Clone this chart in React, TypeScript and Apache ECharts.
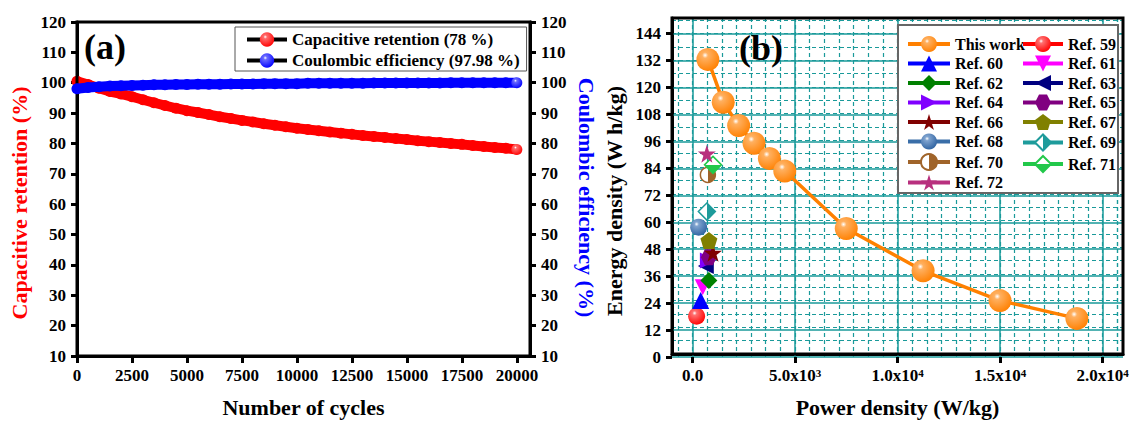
import React, { useEffect, useRef } from "react";
import * as echarts from "echarts";

const FONT = "'Liberation Serif', 'Times New Roman', Times, serif";

// ---------- Panel (a) data ----------
const cycles = [
  0, 500, 1000, 1500, 2000, 2500, 3000, 3500, 4000, 4500, 5000, 5500, 6000, 6500, 7000, 7500, 8000,
  8500, 9000, 9500, 10000, 10500, 11000, 11500, 12000, 12500, 13000, 13500, 14000, 14500, 15000,
  15500, 16000, 16500, 17000, 17500, 18000, 18500, 19000, 19500, 20000,
];
const retention = [
  100.5, 99.4, 98.2, 97.1, 96.3, 95.4, 94.4, 93.4, 92.5, 91.6, 90.8, 90.2, 89.5, 88.8, 88.2, 87.6,
  87.1, 86.5, 86.0, 85.5, 85.0, 84.6, 84.2, 83.8, 83.4, 83.0, 82.6, 82.3, 82.0, 81.6, 81.3, 80.9,
  80.6, 80.3, 80.0, 79.7, 79.3, 79.0, 78.7, 78.4, 78.0,
];
const coulombic = [
  98.0, 98.4, 98.7, 98.9, 99.0, 99.1, 99.2, 99.3, 99.3, 99.4, 99.4, 99.5, 99.5, 99.5, 99.6, 99.6,
  99.6, 99.7, 99.7, 99.7, 99.7, 99.8, 99.8, 99.8, 99.8, 99.8, 99.8, 99.9, 99.9, 99.9, 99.9, 99.9,
  99.9, 99.9, 100.0, 100.0, 100.0, 100.0, 100.0, 100.0, 100.0,
];
const RET_NAME = "Capacitive retention (78 %)";
const CE_NAME = "Coulombic efficiency (97.98 %)";

// ---------- Panel (b) data ----------
const powerThisWork = [750, 1500, 2250, 3000, 3750, 4500, 7500, 11250, 15000, 18750];
const energyThisWork = [132.4, 113.1, 102.7, 94.7, 87.9, 82.2, 56.4, 37.4, 24.0, 16.0];
const refNames = [
  "Ref. 59", "Ref. 60", "Ref. 61", "Ref. 62", "Ref. 63", "Ref. 64", "Ref. 65",
  "Ref. 66", "Ref. 67", "Ref. 68", "Ref. 69", "Ref. 70", "Ref. 71", "Ref. 72",
];
const refPower = [200, 400, 500, 800, 650, 750, 800, 1000, 800, 300, 700, 750, 1000, 700];
const refEnergy = [17, 24, 30, 33, 39.5, 42, 43.5, 45.5, 51, 57, 64, 80.5, 85, 90];

// ---------- styles ----------
const STAR = "path://M50 0 L61.23 34.55 L97.55 34.55 L68.16 55.9 L79.39 90.45 L50 69.1 L20.61 90.45 L31.84 55.9 L2.45 34.55 L38.77 34.55 Z";
const PENTAGON = "path://M50 0 L97.55 34.55 L79.39 90.45 L20.61 90.45 L2.45 34.55 Z";
const HEXAGON = "path://M25 6.7 L75 6.7 L100 50 L75 93.3 L25 93.3 L0 50 Z";

const sphere = (c: string, mid: string) => ({
  type: "radial", x: 0.38, y: 0.32, r: 0.72,
  colorStops: [
    { offset: 0, color: "#ffffff" },
    { offset: 0.18, color: mid },
    { offset: 1, color: c },
  ],
});
const half = (c: string, vertical: boolean) => ({
  type: "linear", x: 0, y: 0, x2: vertical ? 0 : 1, y2: vertical ? 1 : 0,
  colorStops: [
    { offset: 0, color: "#ffffff" },
    { offset: 0.5, color: "#ffffff" },
    { offset: 0.5, color: c },
    { offset: 1, color: c },
  ],
});

const refStyles: any[] = [
  { color: "#FF0000", symbol: "circle", size: 17, fill: sphere("#FF0000", "#ff7070") },
  { color: "#0000FF", symbol: "triangle", size: 17 },
  { color: "#FF00FF", symbol: "triangle", rotate: 180, size: 16 },
  { color: "#008000", symbol: "diamond", size: 17 },
  { color: "#000080", symbol: "triangle", rotate: 90, size: 16 },
  { color: "#8000FF", symbol: "triangle", rotate: -90, size: 16 },
  { color: "#800080", symbol: HEXAGON, size: 16 },
  { color: "#800000", symbol: STAR, size: 18 },
  { color: "#808000", symbol: PENTAGON, size: 17 },
  { color: "#3A6EA8", symbol: "circle", size: 17, fill: sphere("#2E62A0", "#7fa3cf") },
  { color: "#1E9B9B", symbol: "diamond", size: 17, fill: half("#1E9B9B", false), border: true },
  { color: "#A0642A", symbol: "circle", size: 15, fill: half("#A0642A", false), border: true },
  { color: "#22C84A", symbol: "diamond", size: 17, fill: half("#22C84A", true), border: true },
  { color: "#B8307E", symbol: STAR, size: 18 },
];

const TEAL = "#1A9A9A";
const labelStyle = { color: "#000", fontFamily: FONT, fontWeight: "bold" as const, fontSize: 17 };
const nameStyleBase = { fontFamily: FONT, fontWeight: "bold" as const, fontSize: 22 };

export default function App() {
  const ref = useRef<HTMLDivElement>(null);
  useEffect(() => {
    document.body.style.margin = "0";
    const chart = echarts.init(ref.current!, null, { renderer: "svg" });

    const lastIdx = cycles.length - 1;
    const retData = cycles.map((c, i) => ({
      value: [c, retention[i]],
      itemStyle: i === lastIdx ? undefined : { color: "#FF0000" },
    }));
    const ceData = cycles.map((c, i) => ({
      value: [c, coulombic[i]],
      itemStyle: i === lastIdx ? undefined : { color: "#0000FF" },
    }));

    const refSeries = refNames.map((name, i) => {
      const s = refStyles[i];
      return {
        name,
        type: "line",
        xAxisIndex: 2,
        yAxisIndex: 3,
        data: [[refPower[i], refEnergy[i]]],
        symbol: s.symbol,
        symbolSize: s.size,
        symbolRotate: s.rotate || 0,
        lineStyle: { color: s.color, width: 4 },
        itemStyle: {
          color: s.fill || s.color,
          borderColor: s.border ? s.color : undefined,
          borderWidth: s.border ? 1.5 : 0,
        },
        z: 3,
      };
    });

    const powerFormatter = (v: number) => {
      if (v === 0) return "{m|0.0}";
      const e = Math.floor(Math.log10(v) + 1e-9);
      const m = (v / Math.pow(10, e)).toFixed(1);
      return `{m|${m}x10}{e|${e}}`;
    };

    const legendText = { color: "#000", fontFamily: FONT, fontWeight: "bold", fontSize: 16 };

    const option: any = {
      animation: false,
      backgroundColor: "#fff",
      textStyle: { fontFamily: FONT },
      grid: [
        { left: 77, top: 22, width: 453, height: 335, show: true, borderColor: "#000", borderWidth: 3, z: 3 },
        { left: 77, top: 22, width: 440, height: 335 },
        { left: 672, top: 18, width: 451, height: 339, show: true, borderColor: "#000", borderWidth: 3, z: 3 },
        { left: 672, top: 33.72, width: 451, height: 323.28 },
        { left: 692.5, top: 18, width: 410, height: 339 },
        { left: 677.857, top: 18, width: 439.286, height: 339 },
      ],
      xAxis: [
        {
          gridIndex: 0, type: "value", min: 0, max: 20600,
          axisLine: { onZero: false, lineStyle: { color: "#000", width: 3 } },
          axisTick: { show: false }, axisLabel: { show: false }, splitLine: { show: false },
          name: "Number of cycles", nameLocation: "middle", nameGap: 40,
          nameTextStyle: { ...nameStyleBase, color: "#000" },
        },
        {
          gridIndex: 1, type: "value", min: 0, max: 20000, interval: 2500,
          axisLine: { show: false, onZero: false },
          axisTick: { show: true, length: 6, lineStyle: { color: "#000", width: 3 } },
          axisLabel: { ...labelStyle, margin: 10, formatter: (v: number) => String(v) },
          splitLine: { show: false },
        },
        {
          gridIndex: 2, type: "value", min: -1000, max: 21000,
          axisLine: { onZero: false, lineStyle: { color: "#000", width: 3 } },
          axisTick: { show: false }, axisLabel: { show: false }, splitLine: { show: false },
          name: "Power density (W/kg)", nameLocation: "middle", nameGap: 42,
          nameTextStyle: { ...nameStyleBase, color: "#000" },
        },
        {
          gridIndex: 3, type: "value", min: -1000, max: 21000, show: false,
          axisLine: { onZero: false },
        },
        {
          gridIndex: 4, type: "value", min: 0, max: 20000, interval: 5000,
          axisLine: { show: false, onZero: false },
          axisTick: { show: true, length: 6, lineStyle: { color: "#000", width: 3 } },
          axisLabel: {
            margin: 10, formatter: powerFormatter,
            rich: {
              m: { ...labelStyle },
              e: { color: "#000", fontFamily: FONT, fontWeight: "bold", fontSize: 11, verticalAlign: "top" },
            },
          },
          splitLine: { show: true, lineStyle: { color: TEAL, width: 1.5 } },
          z: 1,
        },
        {
          gridIndex: 5, type: "value", min: -714.2857142857143, max: 20714.285714285714,
          interval: 714.2857142857143,
          axisLine: { show: false, onZero: false }, axisTick: { show: false }, axisLabel: { show: false },
          splitLine: { show: true, lineStyle: { color: TEAL, width: 1.2, type: [4, 3] } },
          z: 0,
        },
      ],
      yAxis: [
        {
          gridIndex: 0, type: "value", min: 10, max: 120, interval: 10, position: "left",
          axisLine: { onZero: false, lineStyle: { color: "#000", width: 3 } },
          axisTick: { show: true, length: 6, lineStyle: { color: "#000", width: 3 } },
          axisLabel: { ...labelStyle, margin: 11 }, splitLine: { show: false },
          name: "Capacitive retention (%)", nameLocation: "middle", nameGap: 47, nameRotate: 90,
          nameTextStyle: { ...nameStyleBase, color: "#FF0000", padding: [0, 28, 0, 0] },
        },
        {
          gridIndex: 0, type: "value", min: 10, max: 120, interval: 10, position: "right",
          axisLine: { onZero: false, lineStyle: { color: "#000", width: 3 } },
          axisTick: { show: true, length: 6, lineStyle: { color: "#000", width: 3 } },
          axisLabel: { ...labelStyle, margin: 11 }, splitLine: { show: false },
          name: "Coulombic efficiency (%)", nameLocation: "middle", nameGap: 45, nameRotate: -90,
          nameTextStyle: { ...nameStyleBase, color: "#0000FF", padding: [0, 0, 0, 17] },
        },
        {
          gridIndex: 1, type: "value", min: 10, max: 120, show: false, axisLine: { onZero: false },
        },
        {
          gridIndex: 2, type: "value", min: 0, max: 151, interval: 6,
          axisLine: { onZero: false, lineStyle: { color: "#000", width: 3 } },
          axisTick: { show: false }, axisLabel: { show: false },
          splitLine: { show: true, lineStyle: { color: TEAL, width: 1.2, type: [4, 3] } },
          name: "Energy density (W h/kg)", nameLocation: "middle", nameGap: 47, nameRotate: 90,
          nameTextStyle: { ...nameStyleBase, color: "#000", padding: [0, 30, 0, 0] },
          z: 0,
        },
        {
          gridIndex: 3, type: "value", min: 0, max: 144, interval: 12,
          axisLine: { show: false, onZero: false },
          axisTick: { show: true, length: 6, lineStyle: { color: "#000", width: 3 } },
          axisLabel: { ...labelStyle, margin: 11 },
          splitLine: { show: true, lineStyle: { color: TEAL, width: 1.5 } },
          z: 1,
        },
        {
          gridIndex: 4, type: "value", min: 0, max: 1, show: false, axisLine: { onZero: false },
        },
        {
          gridIndex: 5, type: "value", min: 0, max: 1, show: false, axisLine: { onZero: false },
        },
      ],
      legend: [
        {
          left: 235, top: 27, orient: "vertical", data: [RET_NAME, CE_NAME],
          itemWidth: 40, itemHeight: 18, itemGap: 4, itemTextGap: 5,
          padding: [4, 7, 2, 10], borderColor: "#555", borderWidth: 1, backgroundColor: "#fff",
          lineStyle: { color: "#000", width: 4 },
          textStyle: { ...legendText, fontSize: 17 },
          z: 10,
        },
        {
          left: 906, top: 36, orient: "vertical",
          data: ["This work", "Ref. 60", "Ref. 62", "Ref. 64", "Ref. 66", "Ref. 68", "Ref. 70", "Ref. 72"],
          itemWidth: 42, itemHeight: 20, itemGap: 3.5, itemTextGap: 3, padding: 0,
          lineStyle: { width: 4 },
          textStyle: legendText,
          z: 10,
        },
        {
          left: 1021, top: 36, orient: "vertical",
          data: ["Ref. 59", "Ref. 61", "Ref. 63", "Ref. 65", "Ref. 67", "Ref. 69", "Ref. 71"],
          itemWidth: 40, itemHeight: 20, itemGap: 3.5, itemTextGap: 3, padding: 0,
          lineStyle: { width: 4 },
          textStyle: legendText,
          z: 10,
        },
      ],
      graphic: [
        {
          type: "text", left: 84, top: 29, z: 10,
          style: { text: "(a)", fill: "#000", font: `bold 36px ${FONT}` },
        },
        {
          type: "text", left: 739, top: 30, z: 10,
          style: { text: "(b)", fill: "#000", font: `bold 36px ${FONT}` },
        },
        {
          type: "rect", z: 9,
          shape: { x: 898, y: 25, width: 220, height: 168 },
          style: { fill: "#fff", stroke: "#666", lineWidth: 2 },
        },
      ],
      series: [
        {
          name: RET_NAME, type: "line", xAxisIndex: 0, yAxisIndex: 0, data: retData,
          symbol: "circle", symbolSize: 11,
          lineStyle: { color: "#FF0000", width: 10 },
          itemStyle: { color: sphere("#FF0000", "#ff6a6a") },
          z: 2,
        },
        {
          name: CE_NAME, type: "line", xAxisIndex: 0, yAxisIndex: 1, data: ceData,
          symbol: "circle", symbolSize: 11,
          lineStyle: { color: "#0000FF", width: 10 },
          itemStyle: { color: sphere("#0000FF", "#6a6aff") },
          z: 3,
        },
        {
          name: "This work", type: "line", xAxisIndex: 2, yAxisIndex: 3,
          data: powerThisWork.map((p, i) => [p, energyThisWork[i]]),
          symbol: "circle", symbolSize: 23,
          lineStyle: { color: "#FF8000", width: 3.5 },
          itemStyle: { color: sphere("#FF8000", "#ffb060") },
          z: 4,
        },
        ...refSeries,
      ],
    };

    chart.setOption(option);
    return () => chart.dispose();
  }, []);
  return <div ref={ref} style={{ width: 1132, height: 423 }} />;
}
